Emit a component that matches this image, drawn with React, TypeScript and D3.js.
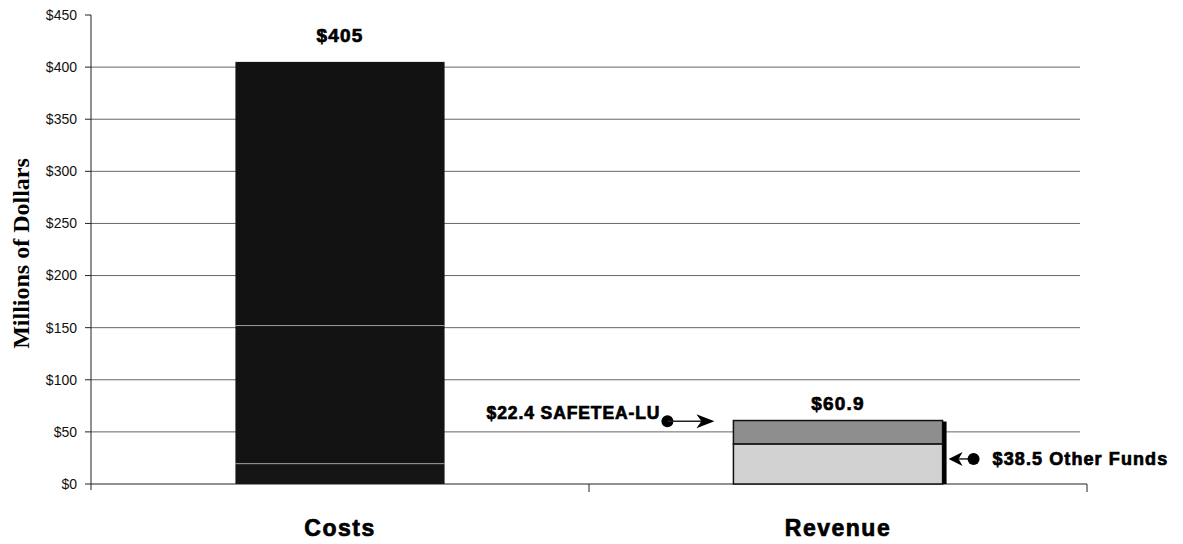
import React from "react";
import * as d3 from "d3";

const width = 1183;
const height = 544;

// data
const categories = ["Costs", "Revenue"];
const stackKeys = ["base", "middle", "top"];
// costs bar shows faint seams, drawn as three dark parts
const costsParts = [19.5, 132.5, 253];
// revenue: other funds at the bottom, SAFETEA-LU on top
const revenueParts = [38.5, 22.4, 0];
const totals = [405, 60.9];
const totalLabels = ["$405", "$60.9"];
const yTicks = [0, 50, 100, 150, 200, 250, 300, 350, 400, 450];
const fills = [
  ["#151515", "#131313", "#121212"],
  ["#d2d2d2", "#8e8e8e", "#8e8e8e"],
];
const annotations = [
  { text: "$22.4 SAFETEA-LU", value: 49.7, side: "left" },
  { text: "$38.5 Other Funds", value: 19.25, side: "right" },
];

const margin = { left: 91, right: 1087, top: 15, bottom: 484 };

const rows = categories.map((c, i) => {
  const parts = i === 0 ? costsParts : revenueParts;
  const r: any = { category: c };
  stackKeys.forEach((k, j) => (r[k] = parts[j]));
  return r;
});

export default function App() {
  const y = d3.scaleLinear().domain([0, 450]).range([margin.bottom, margin.top]);
  const x = d3.scaleBand().domain(categories).range([margin.left, margin.right]).padding(0);
  const barW = x.bandwidth() * 0.42;
  const barX = (c: string) => (x(c) as number) + (x.bandwidth() - barW) / 2;
  const series = d3.stack().keys(stackKeys)(rows as any);
  const gridRight = 1080;
  const bold = "'Liberation Sans', Arial, sans-serif";
  // scanned print looks heavier than plain bold
  const heavy = { fontFamily: bold, fontWeight: "bold", fill: "#000", stroke: "#000", strokeWidth: 0.7 } as any;

  const rev = "Revenue";
  const revX0 = barX(rev);
  const revX1 = revX0 + barW;

  return (
    <svg
      width={width}
      height={height}
      style={{ position: "absolute", left: 0, top: 0, background: "#fff" }}
    >
      {/* gridlines */}
      {yTicks.filter(t => t > 0 && t < 450).map(t => (
        <line key={t} x1={margin.left} x2={gridRight} y1={y(t)} y2={y(t)} stroke="#555" strokeWidth={0.9} />
      ))}
      {/* y axis */}
      <line x1={margin.left} x2={margin.left} y1={y(450)} y2={y(0) + 6} stroke="#222" strokeWidth={1} />
      {yTicks.map(t => (
        <g key={t}>
          <line x1={margin.left - 6} x2={margin.left} y1={y(t)} y2={y(t)} stroke="#222" />
          <text x={margin.left - 14} y={y(t)} dy="0.35em" textAnchor="end" fontFamily={bold} fontSize={14} fill="#111">
            ${t}
          </text>
        </g>
      ))}
      {/* x axis */}
      <line x1={margin.left} x2={margin.right} y1={y(0)} y2={y(0)} stroke="#222" strokeWidth={1} />
      {categories.map(c => (
        <line key={c} x1={(x(c) as number) + x.bandwidth()} x2={(x(c) as number) + x.bandwidth()} y1={y(0)} y2={y(0) + 8} stroke="#222" />
      ))}

      {/* bars */}
      {series.map((s, si) =>
        s.map((d, ci) =>
          d[1] - d[0] > 0 ? (
            <rect
              key={`${si}-${ci}`}
              x={barX(categories[ci])}
              y={y(d[1])}
              width={barW}
              height={y(d[0]) - y(d[1])}
              fill={fills[ci][si]}
              stroke={ci === 0 ? "none" : "#111"}
              strokeWidth={1.5}
            />
          ) : null
        )
      )}
      {/* faint seams on the costs bar */}
      {series.slice(0, 2).map((s, si) => (
        <line key={si} x1={barX("Costs")} x2={barX("Costs") + barW} y1={y(s[0][1])} y2={y(s[0][1])} stroke="#9a9a9a" strokeWidth={1} />
      ))}
      {/* thick right edge on revenue bar */}
      <line x1={revX1 + 2} x2={revX1 + 2} y1={y(totals[1]) + 1} y2={y(0)} stroke="#000" strokeWidth={4} />

      {/* totals */}
      {categories.map((c, i) => (
        <text key={c} x={(x(c) as number) + x.bandwidth() / 2} y={y(totals[i]) - (i === 0 ? 20 : 11)} textAnchor="middle"
          fontSize={19} letterSpacing={1.2} {...heavy}>
          {totalLabels[i]}
        </text>
      ))}

      {/* annotations */}
      {annotations.map(a => {
        const ay = y(a.value) + (a.side === "left" ? -11 : -5);
        if (a.side === "left") {
          const tip = revX0 - 19;
          const dot = tip - 47;
          return (
            <g key={a.text}>
              <text x={dot - 7} y={ay - 2} textAnchor="end" fontSize={17.5} letterSpacing={0.9} {...heavy}>
                {a.text}
              </text>
              <circle cx={dot} cy={ay} r={6} fill="#000" />
              <line x1={dot} x2={tip - 10} y1={ay} y2={ay} stroke="#222" strokeWidth={1.5} />
              <path d={`M${tip},${ay} L${tip - 18},${ay - 7} L${tip - 13},${ay} L${tip - 18},${ay + 7} Z`} fill="#000" />
            </g>
          );
        }
        const tip = revX1 + 6;
        const dot = tip + 25;
        return (
          <g key={a.text}>
            <path d={`M${tip},${ay} L${tip + 14},${ay - 7} L${tip + 10},${ay} L${tip + 14},${ay + 7} Z`} fill="#000" />
            <line x1={tip + 10} x2={dot} y1={ay} y2={ay} stroke="#222" strokeWidth={1.5} />
            <circle cx={dot} cy={ay} r={6} fill="#000" />
            <text x={dot + 19} y={ay} dy="0.36em" fontSize={18} letterSpacing={1.1} {...heavy}>
              {a.text}
            </text>
          </g>
        );
      })}

      {/* category labels */}
      {categories.map(c => (
        <text key={c} x={(x(c) as number) + x.bandwidth() / 2} y={536} textAnchor="middle"
          fontSize={23} letterSpacing={1.5} {...heavy}>
          {c}
        </text>
      ))}

      {/* y title */}
      <text transform={`translate(29,${(y(0) + y(450)) / 2 + 4}) rotate(-90)`} textAnchor="middle"
        fontFamily="'Liberation Serif', 'Times New Roman', serif" fontWeight="bold" fontSize={24} fill="#000">
        Millions of Dollars
      </text>
    </svg>
  );
}
